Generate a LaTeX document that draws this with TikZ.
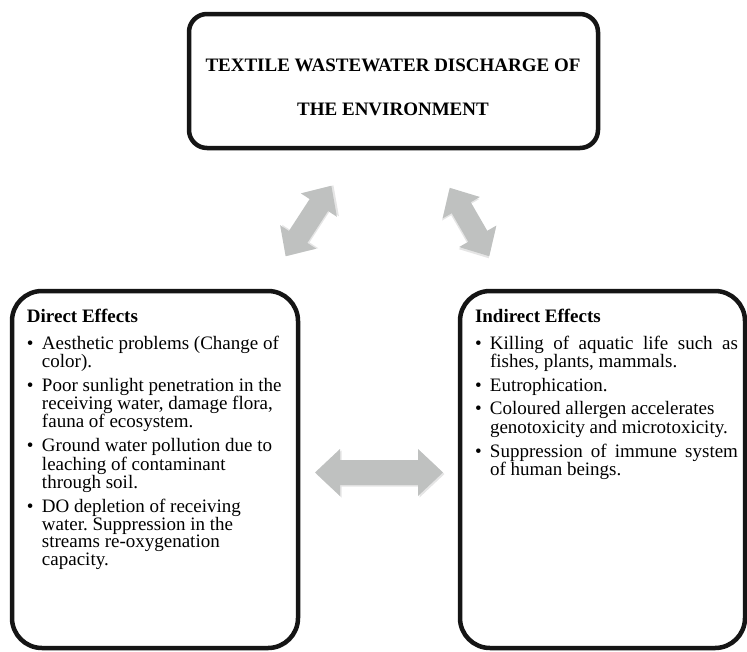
\documentclass[tikz,border=0pt]{standalone}
\usepackage{fontspec}
\setmainfont{Liberation Serif}
\usetikzlibrary{shadows}
\definecolor{boxline}{HTML}{151515}
\definecolor{arrowgray}{HTML}{BFC1C0}
\newcommand{\bodyfont}{\fontsize{19}{17.2}\selectfont\frenchspacing}
\newcommand{\bitem}{\par\hangindent=15pt\hangafter=1\noindent\makebox[15pt][l]{\textbullet}}
% double arrow: cx, cy, angle, length, shaft half, head half, head length
\newcommand{\dblarrowshape}[7]{%
  \begin{scope}[shift={(#1,#2)}, rotate=#3]
    \fill[black, opacity=0.10, xshift=1.5pt, yshift=-1.5pt]
      (-#4/2,0) -- (-#4/2+#7,#6) -- (-#4/2+#7,#5) -- (#4/2-#7,#5) -- (#4/2-#7,#6) -- (#4/2,0)
      -- (#4/2-#7,-#6) -- (#4/2-#7,-#5) -- (-#4/2+#7,-#5) -- (-#4/2+#7,-#6) -- cycle;
    \fill[arrowgray]
      (-#4/2,0) -- (-#4/2+#7,#6) -- (-#4/2+#7,#5) -- (#4/2-#7,#5) -- (#4/2-#7,#6) -- (#4/2,0)
      -- (#4/2-#7,-#6) -- (#4/2-#7,-#5) -- (-#4/2+#7,-#5) -- (-#4/2+#7,-#6) -- cycle;
  \end{scope}}
\tikzset{
  effbox/.style={draw=boxline, line width=4.5pt, fill=white, inner sep=0pt,
    drop shadow={opacity=0.18, shadow xshift=1.5pt, shadow yshift=-2pt}},
  txt/.style={inner sep=0pt, outer sep=0pt},
}
\begin{document}
\begin{tikzpicture}[x=1pt, y=-1pt]
\useasboundingbox (0,0) rectangle (747,651);
% boxes
\node[effbox, rounded corners=18pt, minimum width=409pt, minimum height=134pt] (top) at (393.5,81) {};
\node[effbox, rounded corners=30pt, minimum width=286pt, minimum height=357pt] (left) at (155,469.5) {};
\node[effbox, rounded corners=30pt, minimum width=285pt, minimum height=357pt] (right) at (602.5,469.5) {};
% title
\node[txt, anchor=base] (t1) at (393,71) {\fontsize{19}{20}\selectfont\bfseries TEXTILE WASTEWATER DISCHARGE OF};
\node[txt, anchor=base] (t2) at (393,115) {\fontsize{19}{20}\selectfont\bfseries THE ENVIRONMENT};
% arrows
\dblarrowshape{308.5}{221}{57}{84}{11}{21.5}{23}
\dblarrowshape{469.5}{222}{-60}{79}{11}{21.5}{23}
\dblarrowshape{379}{472.5}{0}{128}{12.5}{23.5}{25}
% left text
\node[txt, anchor=base west] (ltext) at (27,322) {\parbox[t]{268pt}{\bodyfont\raggedright\setlength{\parskip}{5.5pt}%
\textbf{Direct Effects}\par\vspace{4.3pt}%
\bitem Aesthetic problems (Change of\newline color).
\bitem Poor sunlight penetration in the\newline receiving water, damage flora,\newline fauna of ecosystem.
\bitem Ground water pollution due to\newline leaching of contaminant\newline through soil.
\bitem DO depletion of receiving\newline water. Suppression in the\newline streams re-oxygenation\newline capacity.\par}};
% right text
\node[txt, anchor=base west] (rtext) at (475,322) {\parbox[t]{263pt}{\bodyfont\setlength{\parskip}{5.5pt}%
\noindent\textbf{Indirect Effects}\par\vspace{4.3pt}%
\bitem Killing of aquatic life such as\linebreak fishes, plants, mammals.
\bitem Eutrophication.
\bitem Coloured allergen accelerates\newline genotoxicity and microtoxicity.
\bitem Suppression of immune system\linebreak of human beings.\par}};
\end{tikzpicture}
\end{document}
